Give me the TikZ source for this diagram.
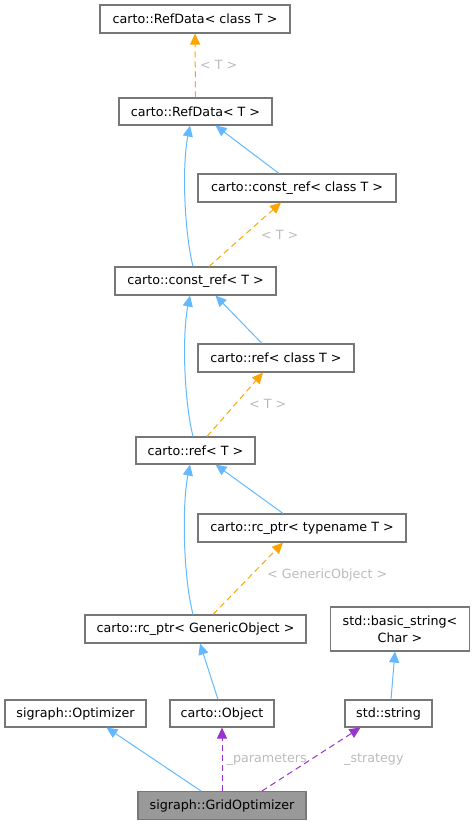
\documentclass[tikz,border=0pt]{standalone}
\usepackage{fontspec}
\setmainfont{DejaVu Sans}
\usetikzlibrary{arrows.meta}
\definecolor{eblue}{HTML}{63B8FF}
\definecolor{eorange}{HTML}{FFA500}
\definecolor{epurple}{HTML}{9A32CD}
\definecolor{lblgray}{HTML}{BBBBBB}
\definecolor{bordergray}{HTML}{777777}
\definecolor{gofill}{HTML}{999999}
\tikzset{
  cls/.style={draw=bordergray, line width=1.1pt, fill=white, inner sep=0pt, align=center,
    font=\fontsize{12.7}{17}\selectfont},
  tip/.style={-{Triangle[length=11pt,width=10pt]}},
  inh/.style={draw=eblue, line width=1pt, tip},
  tmpl/.style={draw=eorange, line width=1pt, dash pattern=on 6pt off 4pt, tip},
  usage/.style={draw=epurple, line width=1pt, dash pattern=on 6pt off 4pt, tip},
  lbl/.style={text=lblgray, font=\fontsize{12.7}{15}\selectfont, anchor=west, inner sep=0pt},
}
\begin{document}
\begin{tikzpicture}[x=1pt,y=-1pt]
\useasboundingbox (0,0) rectangle (475,825);
\node[cls, minimum width=190pt, minimum height=28pt] (rdc) at (195,19) {carto::RefData< class T >};
\node[cls, minimum width=153pt, minimum height=27pt] (rd) at (195.5,111.5) {carto::RefData< T >};
\node[cls, minimum width=198pt, minimum height=28pt] (crc) at (297,188) {carto::const\_ref< class T >};
\node[cls, minimum width=161pt, minimum height=28pt] (cr) at (195.5,281) {carto::const\_ref< T >};
\node[cls, minimum width=156pt, minimum height=28pt] (rc) at (276,358) {carto::ref< class T >};
\node[cls, minimum width=119pt, minimum height=27pt] (r) at (195.5,450.5) {carto::ref< T >};
\node[cls, minimum width=208pt, minimum height=28pt] (rpt) at (302,528) {carto::rc\_ptr< typename T >};
\node[cls, minimum width=221pt, minimum height=28pt] (rpg) at (195.5,629) {carto::rc\_ptr< GenericObject >};
\node[cls, minimum width=139pt, minimum height=44pt] (bs) at (400,629) {std::basic\_string<\\Char >};
\node[cls, minimum width=141pt, minimum height=27pt] (opt) at (75.5,713.5) {sigraph::Optimizer};
\node[cls, minimum width=104pt, minimum height=27pt] (obj) at (222,713.5) {carto::Object};
\node[cls, minimum width=87pt, minimum height=27pt] (str) at (388.5,713.5) {std::string};
\node[cls, fill=gofill, minimum width=168pt, minimum height=28pt] (go) at (222,805.5) {sigraph::GridOptimizer};

% template instantiation edges
\draw[tmpl] (rd.north) -- (rdc.south);
\draw[tmpl] ([xshift=13.5pt]cr.north) -- ([xshift=-16pt]crc.south);
\draw[tmpl] ([xshift=11.5pt]r.north) -- ([xshift=-13pt]rc.south);
\draw[tmpl] ([xshift=17.5pt]rpg.north) -- ([xshift=-19pt]rpt.south);

% inheritance edges
\draw[inh] ([xshift=-2.5pt]cr.north) .. controls (184,230) and (182,165) .. ([xshift=-5.5pt]rd.south);
\draw[inh] ([xshift=-18pt]crc.north) -- ([xshift=20pt]rd.south);
\draw[inh] ([xshift=-2.5pt]r.north) .. controls (184,400) and (182,335) .. ([xshift=-5.5pt]cr.south);
\draw[inh] ([xshift=-14pt]rc.north) -- ([xshift=20pt]cr.south);
\draw[inh] ([xshift=-2.5pt]rpg.north) .. controls (183,575) and (182,505) .. ([xshift=-5.5pt]r.south);
\draw[inh] ([xshift=-19pt]rpt.north) -- ([xshift=20pt]r.south);
\draw[inh] ([xshift=-4pt]obj.north) -- ([xshift=4.5pt]rpg.south);
\draw[inh] ([xshift=2.5pt]str.north) -- ([xshift=-5pt]bs.south);
\draw[inh] ([xshift=-21pt]go.north) -- ([xshift=31pt]opt.south);

% usage edges
\draw[usage] (go.north) -- (obj.south);
\draw[usage] ([xshift=40pt]go.north) -- ([xshift=-28pt]str.south);

% labels
\node[lbl] (l1) at (200,65) {< T >};
\node[lbl] (l2) at (261,234.5) {< T >};
\node[lbl] (l3) at (249,404) {< T >};
\node[lbl] (l4) at (267,574.5) {< GenericObject >};
\node[lbl] (l5) at (226.5,760) {\_parameters};
\node[lbl] (l6) at (344,760) {\_strategy};
\end{tikzpicture}
\end{document}
